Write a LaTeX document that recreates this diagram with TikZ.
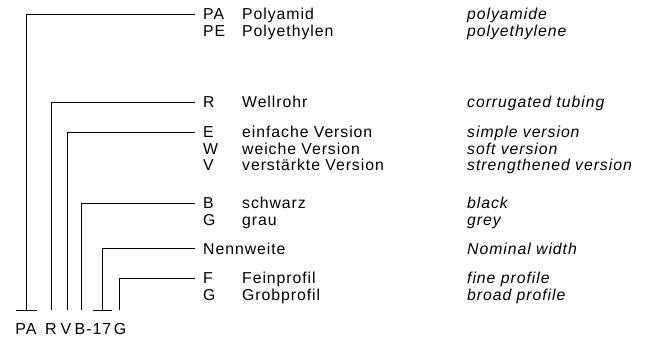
\documentclass[tikz,border=0pt]{standalone}
\usepackage{fontspec}
\setmainfont{Liberation Sans}[LetterSpace=6]
\begin{document}
\begin{tikzpicture}[x=1pt,y=-1pt,
  txt/.style={anchor=base west,inner sep=0pt,font=\fontsize{15.8}{17}\selectfont},
  eng/.style={txt,font=\fontsize{15.8}{17}\selectfont\itshape},
  bot/.style={anchor=base,inner sep=0pt,font=\fontsize{16}{18}\selectfont},
  ln/.style={line width=0.8pt},
  tee/.style={line width=0.8pt}]
\useasboundingbox (0,0) rectangle (646,340);
% codes
\node[txt] (pa) at (203,19.5) {PA};
\node[txt] (pe) at (203,36.5) {PE};
\node[txt] (r) at (203,107.5) {R};
\node[txt] (e) at (203,137.5) {E};
\node[txt] (w) at (203,154) {W};
\node[txt] (v) at (203,170.5) {V};
\node[txt] (b) at (203,208.5) {B};
\node[txt] (g) at (203,225.5) {G};
\node[txt] (nw) at (203,254.5) {Nennweite};
\node[txt] (f) at (203,283.5) {F};
\node[txt] (g2) at (203,300.5) {G};
% german
\node[txt] at (242,19.5) {Polyamid};
\node[txt] at (242,36.5) {Polyethylen};
\node[txt] at (242,107.5) {Wellrohr};
\node[txt] at (242,137.5) {einfache Version};
\node[txt] at (242,154) {weiche Version};
\node[txt] at (242,170.5) {verstärkte Version};
\node[txt] at (242,208.5) {schwarz};
\node[txt] at (242,225.5) {grau};
\node[txt] at (242,283.5) {Feinprofil};
\node[txt] at (242,300.5) {Grobprofil};
% english
\node[eng] at (467,19.5) {polyamide};
\node[eng] at (467,36.5) {polyethylene};
\node[eng] at (467,107.5) {corrugated tubing};
\node[eng] at (467,137.5) {simple version};
\node[eng] at (467,154) {soft version};
\node[eng] at (467,170.5) {strengthened version};
\node[eng] at (467,208.5) {black};
\node[eng] at (467,225.5) {grey};
\node[eng] at (467,254.5) {Nominal width};
\node[eng] at (467,283.5) {fine profile};
\node[eng] at (467,300.5) {broad profile};
% bottom code
\node[bot] (bpa) at (26,334) {PA};
\node[bot] (br) at (51,334) {R};
\node[bot] (bv) at (66,334) {V};
\node[bot] (bb) at (80,334) {B};
\node[bot] (bdash) at (89,334) {-};
\node[bot] (b17) at (102,334) {17};
\node[bot] (bg) at (120,334) {G};
% bottom coordinates
\coordinate (cpa) at (26,310);
\coordinate (cr) at (51,310);
\coordinate (cv) at (67,310);
\coordinate (cb) at (81,310);
\coordinate (cn) at (102,310);
\coordinate (cg) at (119,310);
% connectors
\draw[ln] ([xshift=-8pt]pa.west) -| (cpa);
\draw[ln] ([xshift=-8pt]r.west) -| (cr);
\draw[ln] ([xshift=-8pt]e.west) -| (cv);
\draw[ln] ([xshift=-8pt]b.west) -| (cb);
\draw[ln] ([xshift=-8pt]nw.west) -| (cn);
\draw[ln] ([xshift=-8pt]f.west) -| (cg);
% tee bars
\draw[tee] ([xshift=-10.5pt]cpa) -- ([xshift=10.5pt]cpa);
\draw[tee] ([xshift=-9.5pt]cn) -- ([xshift=9.5pt]cn);
\end{tikzpicture}
\end{document}
